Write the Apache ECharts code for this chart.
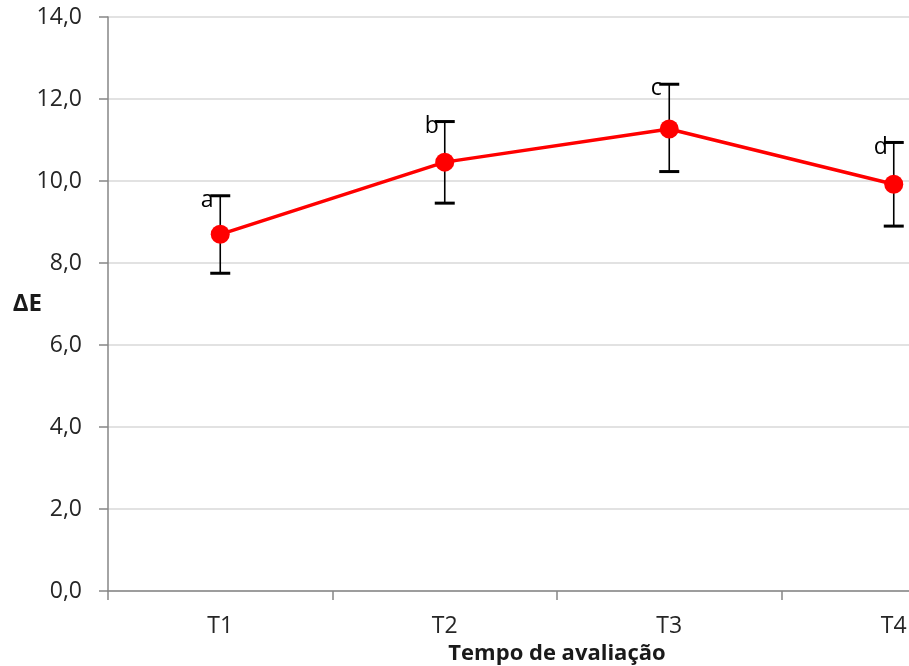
<!DOCTYPE html>
<html>
<head>
<meta charset="utf-8">
<script src="https://cdn.jsdelivr.net/npm/echarts@6/dist/echarts.min.js"></script>
<style>
html,body{margin:0;padding:0;background:#fff;}
#chart{width:909px;height:666px;}
</style>
</head>
<body>
<div id="chart"></div>
<script>
var categories = ['T1', 'T2', 'T3', 'T4'];
var meanValues = [8.70, 10.46, 11.27, 9.92];
var errorLow = [7.75, 9.46, 10.23, 8.90];
var errorHigh = [9.64, 11.45, 12.36, 10.94];
var letters = ['a', 'b', 'c', 'd'];
var yTicks = [0, 2, 4, 6, 8, 10, 12, 14];

var errData = categories.map(function (c, i) { return [i, errorLow[i], errorHigh[i]]; });

var chart = echarts.init(document.getElementById('chart'));
var FONT = 'Open Sans';
chart.setOption({
  animation: false,
  backgroundColor: '#ffffff',
  grid: { left: 108, top: 17, width: 898, height: 574, containLabel: false, outerBoundsMode: 'none' },
  xAxis: {
    type: 'category',
    data: categories,
    boundaryGap: true,
    name: 'Tempo de avaliação',
    nameLocation: 'middle',
    nameGap: 52,
    nameMoveOverlap: false,
    nameTextStyle: { fontFamily: FONT, fontSize: 22, fontWeight: 'bold', color: '#1a1a1a' },
    axisLine: { lineStyle: { color: '#868686', width: 1.5 } },
    axisTick: { show: true, length: 9, lineStyle: { color: '#868686', width: 1.5 } },
    axisLabel: { fontFamily: FONT, fontSize: 23, color: '#262626', margin: 24 },
    splitLine: { show: false }
  },
  yAxis: {
    type: 'value',
    min: yTicks[0],
    max: yTicks[yTicks.length - 1],
    interval: 2,
    name: 'ΔE',
    nameLocation: 'middle',
    nameRotate: 0,
    nameGap: 66,
    nameMoveOverlap: false,
    nameTextStyle: { fontFamily: FONT, fontSize: 24, fontWeight: 'bold', color: '#1a1a1a', align: 'right' },
    axisLine: { show: true, lineStyle: { color: '#868686', width: 1.5 } },
    axisTick: { show: true, length: 9, lineStyle: { color: '#868686', width: 1.5 } },
    axisLabel: {
      fontFamily: FONT, fontSize: 23, color: '#262626', margin: 26,
      formatter: function (v) { return v.toFixed(1).replace('.', ','); }
    },
    splitLine: { show: true, lineStyle: { color: '#d9d9d9', width: 1.5 } }
  },
  series: [
    {
      type: 'custom',
      z: 2,
      data: errData,
      renderItem: function (params, api) {
        var i = api.value(0);
        var lo = api.coord([i, api.value(1)]);
        var hi = api.coord([i, api.value(2)]);
        var x = hi[0];
        return {
          type: 'group',
          children: [
            { type: 'line', shape: { x1: x, y1: hi[1], x2: x, y2: lo[1] }, style: { stroke: '#000', lineWidth: 1.6 } },
            { type: 'line', shape: { x1: x - 10, y1: hi[1], x2: x + 10, y2: hi[1] }, style: { stroke: '#000', lineWidth: 3 } },
            { type: 'line', shape: { x1: x - 10, y1: lo[1], x2: x + 10, y2: lo[1] }, style: { stroke: '#000', lineWidth: 3 } },
            { type: 'text', x: x - 13, y: hi[1] + 16, style: { text: letters[params.dataIndex], fontFamily: FONT, fontSize: 23, fill: '#000', align: 'center', verticalAlign: 'bottom' } }
          ]
        };
      }
    },
    {
      type: 'line',
      z: 5,
      data: meanValues,
      symbol: 'circle',
      symbolSize: 19,
      itemStyle: { color: '#ff0000' },
      lineStyle: { color: '#ff0000', width: 3.5 }
    }
  ]
});
</script>
</body>
</html>
